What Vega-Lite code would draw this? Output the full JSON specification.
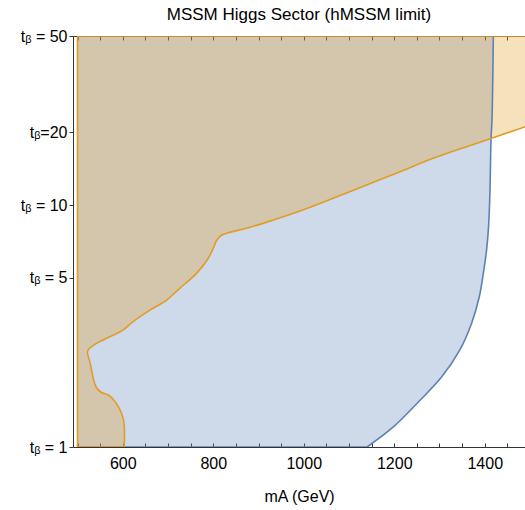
{
  "$schema": "https://vega.github.io/schema/vega-lite/v6.json",
  "width": 452,
  "height": 411,
  "autosize": {"type": "none"},
  "padding": {"left": 73, "top": 36, "right": 0, "bottom": 63},
  "background": "white",
  "title": {"text": "MSSM Higgs Sector (hMSSM limit)", "fontSize": 17, "font": "Liberation Sans", "fontWeight": "normal", "color": "#000000", "anchor": "middle", "offset": 4},
  "config": {
    "view": {"stroke": null},
    "axis": {"labelFont": "Liberation Sans", "titleFont": "Liberation Sans", "labelFontSize": 16, "titleFontSize": 16, "titleFontWeight": "normal", "labelColor": "#000000", "titleColor": "#000000", "domainColor": "#333333", "tickColor": "#333333", "grid": false, "domainWidth": 1, "tickWidth": 1}
  },
  "datasets": {
    "blueArea": [
      {"t": 1, "m": 1140}, {"t": 1.21, "m": 1198}, {"t": 1.56, "m": 1257}, {"t": 1.95, "m": 1305},
      {"t": 2.52, "m": 1345}, {"t": 3.25, "m": 1371}, {"t": 4.18, "m": 1388}, {"t": 5.39, "m": 1398},
      {"t": 6.5, "m": 1404}, {"t": 7.9, "m": 1408}, {"t": 10.5, "m": 1411}, {"t": 18.9, "m": 1414},
      {"t": 22.5, "m": 1416}, {"t": 50, "m": 1419}
    ],
    "blueEdge": [
      {"o": 0, "t": 1, "m": 500}, {"o": 1, "t": 1, "m": 1140}
    ],
    "blueCurve": [
      {"o": 1, "t": 1, "m": 1140}, {"o": 2, "t": 1.21, "m": 1198}, {"o": 3, "t": 1.56, "m": 1257},
      {"o": 4, "t": 1.95, "m": 1305}, {"o": 5, "t": 2.52, "m": 1345}, {"o": 6, "t": 3.25, "m": 1371}, {"o": 7, "t": 4.18, "m": 1388},
      {"o": 8, "t": 5.39, "m": 1398}, {"o": 9, "t": 6.5, "m": 1404}, {"o": 10, "t": 7.9, "m": 1408}, {"o": 11, "t": 10.5, "m": 1411},
      {"o": 12, "t": 18.9, "m": 1414}, {"o": 13, "t": 22.5, "m": 1416}, {"o": 14, "t": 50, "m": 1419}
    ],
    "orangeArea": [
      {"t": 1, "m": 603}, {"t": 1.31, "m": 601}, {"t": 1.54, "m": 583}, {"t": 1.64, "m": 568},
      {"t": 1.68, "m": 553}, {"t": 1.77, "m": 541}, {"t": 2.22, "m": 528}, {"t": 2.48, "m": 522},
      {"t": 2.55, "m": 526}, {"t": 2.68, "m": 542}, {"t": 3.05, "m": 601}, {"t": 3.3, "m": 623},
      {"t": 3.68, "m": 660}, {"t": 4.05, "m": 697}, {"t": 4.53, "m": 726}, {"t": 5.22, "m": 763},
      {"t": 6.03, "m": 789}, {"t": 6.63, "m": 800}, {"t": 7.17, "m": 808}, {"t": 7.52, "m": 819},
      {"t": 7.69, "m": 833}, {"t": 8.02, "m": 874}, {"t": 8.68, "m": 933}, {"t": 9.43, "m": 990},
      {"t": 10.67, "m": 1065}, {"t": 12.11, "m": 1139}, {"t": 13.75, "m": 1213}, {"t": 15.6, "m": 1286},
      {"t": 17.44, "m": 1360}, {"t": 18.9, "m": 1415}, {"t": 21.1, "m": 1489}, {"t": 21.5, "m": 1500},
      {"t": 50, "m": 1500}
    ],
    "orangeEdge": [
      {"o": 0, "t": 50, "m": 1500}, {"o": 1, "t": 50, "m": 500}, {"o": 2, "t": 1, "m": 500}, {"o": 3, "t": 1, "m": 603}
    ],
    "orangeCurve": [
      {"o": 3, "t": 1, "m": 603},
      {"o": 4, "t": 1.31, "m": 601}, {"o": 5, "t": 1.54, "m": 583}, {"o": 6, "t": 1.64, "m": 568}, {"o": 7, "t": 1.68, "m": 553},
      {"o": 8, "t": 1.77, "m": 541}, {"o": 9, "t": 2.22, "m": 528}, {"o": 10, "t": 2.48, "m": 522}, {"o": 11, "t": 2.55, "m": 526},
      {"o": 12, "t": 2.68, "m": 542}, {"o": 13, "t": 3.05, "m": 601}, {"o": 14, "t": 3.3, "m": 623}, {"o": 15, "t": 3.68, "m": 660},
      {"o": 16, "t": 4.05, "m": 697}, {"o": 17, "t": 4.53, "m": 726}, {"o": 18, "t": 5.22, "m": 763}, {"o": 19, "t": 6.03, "m": 789},
      {"o": 20, "t": 6.63, "m": 800}, {"o": 21, "t": 7.17, "m": 808}, {"o": 22, "t": 7.52, "m": 819}, {"o": 23, "t": 7.69, "m": 833},
      {"o": 24, "t": 8.02, "m": 874}, {"o": 25, "t": 8.68, "m": 933}, {"o": 26, "t": 9.43, "m": 990}, {"o": 27, "t": 10.67, "m": 1065},
      {"o": 28, "t": 12.11, "m": 1139}, {"o": 29, "t": 13.75, "m": 1213}, {"o": 30, "t": 15.6, "m": 1286}, {"o": 31, "t": 17.44, "m": 1360},
      {"o": 32, "t": 18.9, "m": 1415}, {"o": 33, "t": 21.1, "m": 1489}, {"o": 34, "t": 21.5, "m": 1500}
    ]
  },
  "encoding": {
    "y": {"field": "t", "type": "quantitative", "scale": {"type": "log", "domain": [1, 50], "nice": false},
      "axis": {"orient": "left", "values": [1, 5, 10, 20, 50], "title": null, "tickSize": 4, "labelPadding": 2,
        "labelExpr": "datum.value == 20 ? 'tᵦ=20' : 'tᵦ = ' + datum.value"}}
  },
  "layer": [
    {
      "data": {"name": "blueArea"},
      "mark": {"type": "area", "orient": "horizontal", "interpolate": "catmull-rom", "fill": "#5E81B5", "fillOpacity": 0.3, "clip": true},
      "encoding": {
        "x": {"field": "m", "type": "quantitative", "scale": {"domain": [490, 1489], "nice": false, "zero": false},
          "axis": {"orient": "bottom", "values": [500, 550, 600, 650, 700, 750, 800, 850, 900, 950, 1000, 1050, 1100, 1150, 1200, 1250, 1300, 1350, 1400, 1450],
            "format": "d", "labelExpr": "datum.value % 200 == 0 ? datum.label : ''", "tickSize": -4, "labelPadding": 12,
            "title": "mA (GeV)", "titlePadding": 17}},
        "x2": {"datum": 500}
      }
    },
    {
      "data": {"name": "orangeArea"},
      "mark": {"type": "area", "orient": "horizontal", "interpolate": "catmull-rom", "fill": "#E19C24", "fillOpacity": 0.3, "clip": true},
      "encoding": {
        "x": {"field": "m", "type": "quantitative",
          "axis": {"orient": "top", "values": [500, 550, 600, 650, 700, 750, 800, 850, 900, 950, 1000, 1050, 1100, 1150, 1200, 1250, 1300, 1350, 1400, 1450],
            "labels": false, "tickSize": -4, "title": null}},
        "x2": {"datum": 500}
      }
    },
    {
      "data": {"name": "blueEdge"},
      "mark": {"type": "line", "stroke": "#5E81B5", "strokeWidth": 1.6, "clip": true},
      "encoding": {
        "x": {"field": "m", "type": "quantitative", "axis": null},
        "order": {"field": "o", "type": "quantitative"}
      }
    },
    {
      "data": {"name": "blueCurve"},
      "mark": {"type": "line", "interpolate": "catmull-rom", "stroke": "#5E81B5", "strokeWidth": 1.6, "clip": true},
      "encoding": {
        "x": {"field": "m", "type": "quantitative", "axis": null},
        "order": {"field": "o", "type": "quantitative"}
      }
    },
    {
      "data": {"name": "orangeEdge"},
      "mark": {"type": "line", "stroke": "#E19C24", "strokeWidth": 1.6, "clip": true},
      "encoding": {
        "x": {"field": "m", "type": "quantitative", "axis": null},
        "order": {"field": "o", "type": "quantitative"}
      }
    },
    {
      "data": {"name": "orangeCurve"},
      "mark": {"type": "line", "interpolate": "catmull-rom", "stroke": "#E19C24", "strokeWidth": 1.6, "clip": true},
      "encoding": {
        "x": {"field": "m", "type": "quantitative", "axis": null},
        "order": {"field": "o", "type": "quantitative"}
      }
    }
  ]
}
